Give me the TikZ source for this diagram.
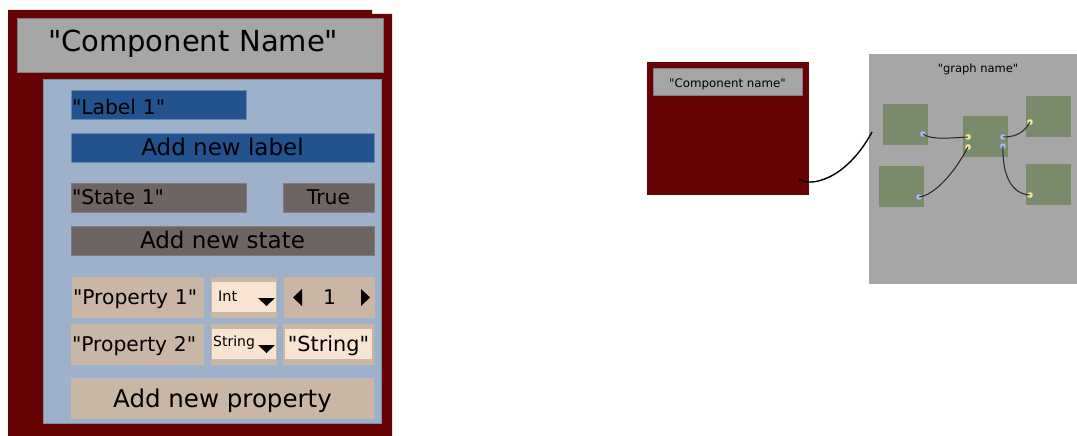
\documentclass[tikz,border=0pt]{standalone}
\usepackage{fontspec}
\setmainfont{DejaVu Sans}[Ligatures=TeXOff]
\definecolor{darkred}{RGB}{102,4,4}
\definecolor{titlegray}{RGB}{166,166,166}
\definecolor{panelblue}{RGB}{157,177,203}
\definecolor{labelblue}{RGB}{35,83,142}
\definecolor{stategray}{RGB}{110,101,99}
\definecolor{proptan}{RGB}{201,182,164}
\definecolor{cream}{RGB}{249,227,209}
\definecolor{nodegreen}{RGB}{122,139,107}
\definecolor{portblue}{RGB}{164,194,230}
\definecolor{portyellow}{RGB}{236,229,158}
\newcommand\fsz[1]{\fontsize{#1}{#1}\selectfont}
\begin{document}
\begin{tikzpicture}[x=1pt,y=-1pt,
    box/.style={anchor=north west,inner sep=1pt,outer sep=0pt,text=black},
    fmid/.style={font=\fsz{20.3},text height=14.8pt,text depth=0pt},
    fbig/.style={font=\fsz{23},text height=16.8pt,text depth=0pt},
    titlebox/.style={box,fill=titlegray,draw=titlegray!75!black,line width=0.6pt},
    labelbox/.style={box,fill=labelblue,draw=labelblue!70!white,line width=0.6pt},
    statebox/.style={box,fill=stategray,draw=stategray!85!white,line width=0.6pt},
    propbox/.style={box,fill=proptan},
    inputbox/.style={box,fill=cream},
    gnode/.style={box,fill=nodegreen,minimum width=45,minimum height=41},
    port/.style={circle,inner sep=0pt,minimum size=6pt,fill=#1,draw=#1!75!black,line width=0.4pt},
    wire/.style={line width=1pt,black!85}]
\useasboundingbox (0,0) rectangle (1077,436);
\fill[darkred] (8,10) -- (372,10) -- (372,14) -- (392,14) -- (392,436) -- (8,436) -- cycle;
\node[titlebox,text width=304,inner xsep=31,align=left,minimum height=54,font=\fsz{29},text height=21.2pt,text depth=8pt] (title) at (17,18) {"Component Name"};
\node[box,fill=panelblue,draw=panelblue!80!black,line width=0.6pt,minimum width=338,minimum height=344] (panel) at (43,79) {};
\node[labelbox,text width=173,align=left,minimum height=29,fmid,text height=19.4pt] (lab1) at (71,90) {"Label 1"};
\node[labelbox,minimum width=303,minimum height=29,fbig] (addlab) at (71,133) {Add new label};
\node[statebox,text width=173,align=left,minimum height=29,fmid] (st1) at (71,183) {"State 1"};
\node[statebox,minimum width=91,minimum height=29,fmid] (stval) at (283,183) {True};
\node[statebox,minimum width=303,minimum height=29,fbig] (addst) at (71,226) {Add new state};
\node[propbox,text width=130,align=left,minimum height=41,fmid] (prop1) at (72,277) {"Property 1"};
\node[propbox,minimum width=66,minimum height=41] (type1) at (211,277) {};
\node[inputbox,minimum width=64,minimum height=30] (int) at (212,282) {};
\node[anchor=base west,inner sep=0pt,font=\fsz{14.4}] (inttxt) at (218,301) {Int};
\fill (258,298) -- (275,298) -- (266.5,306) -- cycle;
\node[propbox,minimum width=91,minimum height=41,fmid] (spin) at (284,277) {1};
\fill (293,297.5) -- (302,289) -- (302,306) -- cycle;
\fill (370,297.5) -- (361,289) -- (361,306) -- cycle;
\node[propbox,text width=131,align=left,minimum height=41,fmid] (prop2) at (71,324) {"Property 2"};
\node[propbox,minimum width=66,minimum height=41] (type2) at (211,324) {};
\node[inputbox,minimum width=64,minimum height=30] (str) at (212,329) {};
\node[anchor=base west,inner sep=0pt,font=\fsz{14}] (strtxt) at (213,346) {String};
\fill (258,345) -- (275,345) -- (266.5,353) -- cycle;
\node[propbox,minimum width=91,minimum height=41] (val2) at (283,324) {};
\node[inputbox,minimum width=87,minimum height=30,font=\fsz{20.8},text height=15.2pt,text depth=0pt] (strval) at (285,329) {"String"};
\node[propbox,minimum width=303,minimum height=41,font=\fsz{24.5},text height=17.9pt,text depth=0pt] (addprop) at (71,378) {Add new property};
\node[box,fill=darkred,minimum width=162,minimum height=133] (comp) at (647,62) {};
\node[titlebox,minimum width=149,minimum height=27,font=\fsz{11.8},text height=11.2pt,text depth=0pt] (ctitle) at (653,68) {"Component name"};
\coordinate (cout) at (799,179);
\node[box,fill=titlegray,minimum width=208,minimum height=230] (graph) at (869,54) {};
\coordinate (gin) at (872,132);
\draw[line width=1.4pt] (cout) .. controls (808,187) and (845,182) .. (gin);
\node[inner sep=0pt,font=\fsz{11.5}] (gname) at (978,69) {"graph name"};
\node[gnode] (na) at (883,104) {};
\node[gnode] (nb) at (879,166) {};
\node[gnode] (nc) at (963,116) {};
\node[gnode] (nd) at (1026,96) {};
\node[gnode] (ne) at (1026,164) {};
\node[port=portblue] (pa) at (923,134) {};
\node[port=portblue] (pb) at (919,197) {};
\node[port=portyellow] (ci1) at (968,137) {};
\node[port=portyellow] (ci2) at (968,147) {};
\node[port=portblue] (co1) at (1003,137) {};
\node[port=portblue] (co2) at (1003,146) {};
\node[port=portyellow] (pd) at (1030,122) {};
\node[port=portyellow] (pe) at (1030,195) {};
\draw[wire] (pa.center) .. controls (930,140) and (950,138) .. (ci1.center);
\draw[wire] (pb.center) .. controls (935,195) and (955,172) .. (ci2.center);
\draw[wire] (co1.center) .. controls (1018,137) and (1025,131) .. (pd.center);
\draw[wire] (co2.center) .. controls (1002,172) and (1010,194) .. (pe.center);
\end{tikzpicture}
\end{document}
